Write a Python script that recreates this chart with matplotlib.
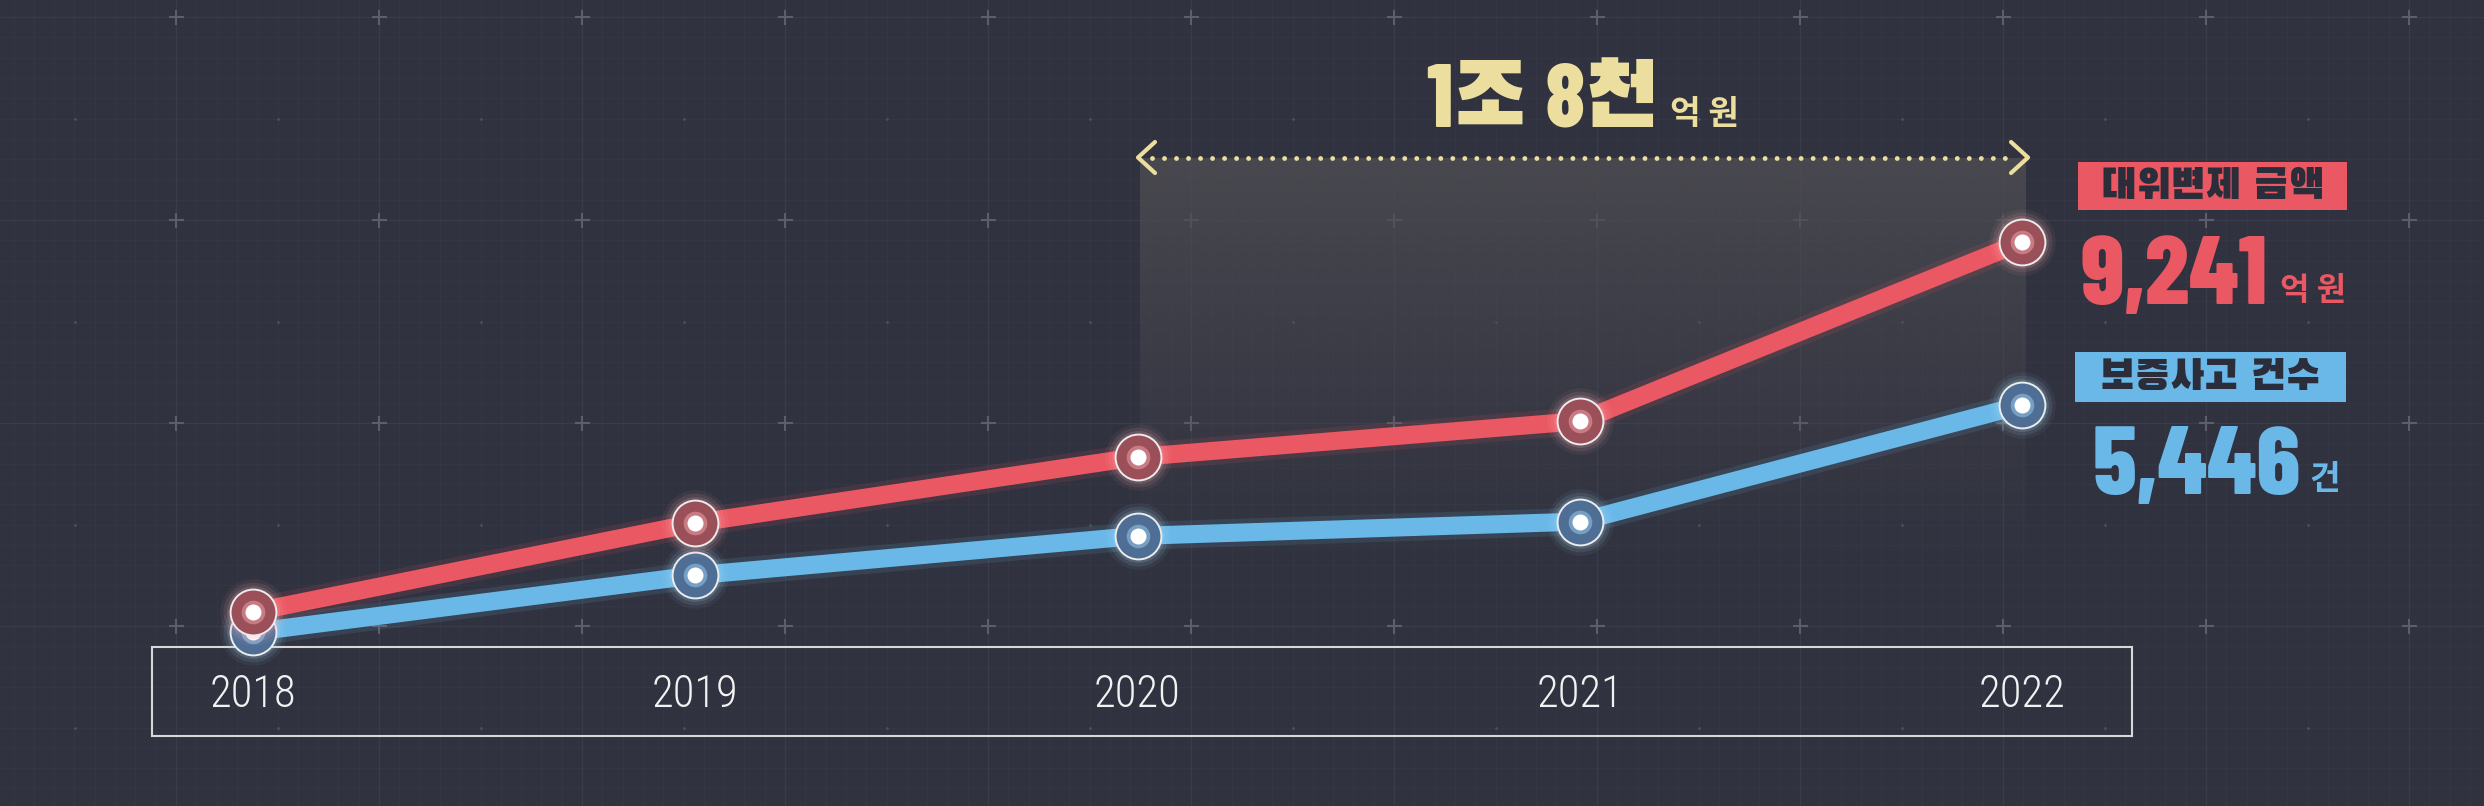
import numpy as np
import matplotlib
matplotlib.use('Agg')
import matplotlib.pyplot as plt
from matplotlib.patches import Rectangle
from matplotlib.collections import LineCollection
import matplotlib.transforms as mtransforms

# ---------------- data ----------------
years = [2018, 2019, 2020, 2021, 2022]
year_labels = ['2018', '2019', '2020', '2021', '2022']
subrogation_amount = [583, 2665, 4210, 5050, 9241]   # 대위변제 금액 (억 원)
accident_count = [372, 1640, 2520, 2840, 5446]       # 보증사고 건수 (건)

total_big = '1조 8천'
total_unit = '억 원'
red_title = '대위변제 금액'
red_value = '9,241'
red_unit = '억 원'
blue_title = '보증사고 건수'
blue_value = '5,446'
blue_unit = '건'

# ---------------- style ----------------
W, H = 2484, 806
BG = '#30323f'
RED = '#ea5863'
BLUE = '#6ab8e8'
RED_FILL = '#9b5059'
BLUE_FILL = '#4e6e96'
YEL = '#ebde9e'
DARK = '#2b2d3a'
CJK = 'Noto Sans CJK KR'
HEAVY = ['Black Han Sans', CJK]
NUMF = ['Barlow Condensed', 'Black Han Sans', CJK]
YEARF = ['Roboto Condensed', CJK]

fig = plt.figure(figsize=(W / 100, H / 100), dpi=100, facecolor=BG)
renderer = fig.canvas.get_renderer()

# background / decoration axes in pixel coordinates
bg = fig.add_axes([0, 0, 1, 1])
bg.axis('off')
bg.set_xlim(0, W)
bg.set_ylim(H, 0)

# fine grid
fine = 20.3
xs_f = np.arange(176 - fine * 9, W + fine, fine)
ys_f = np.arange(17 - fine, H + fine, fine)
bg.vlines(xs_f, 0, H, color='#353744', lw=0.7, zorder=0)
bg.hlines(ys_f, 0, W, color='#353744', lw=0.7, zorder=0)
# major grid
major = 203
xs_m = np.arange(176 - major, W + major, major)
ys_m = np.arange(17, H + major, major)
bg.vlines(xs_m, 0, H, color='#3a3c4a', lw=1.0, zorder=0)
bg.hlines(ys_m, 0, W, color='#3a3c4a', lw=1.0, zorder=0)
segs = []
for x in xs_m:
    for y in ys_m:
        segs.append([(x - 7.5, y), (x + 7.5, y)])
        segs.append([(x, y - 7.5), (x, y + 7.5)])
bg.add_collection(LineCollection(segs, colors='#5c5e6a', linewidths=1.5, zorder=0.5))
mx, my = np.meshgrid(xs_m + major / 2, ys_m - major / 2)
bg.scatter(mx.ravel(), my.ravel(), s=4, color='#4e505c', lw=0, zorder=0.5)

# shaded period 2020-2022
n = 200
grad = np.zeros((n, 1, 4))
grad[:, 0, :3] = matplotlib.colors.to_rgb('#4d4c52')
grad[:, 0, 3] = np.linspace(0.9, 0.0, n) ** 1.4
bg.imshow(grad, extent=[1140, 2026, 600, 158], aspect='auto', zorder=1,
          interpolation='bilinear')
bg.set_xlim(0, W)
bg.set_ylim(H, 0)

# dotted arrow
bg.plot([1152, 2014], [158, 158], color=YEL, lw=3.5,
        linestyle=(0, (0.001, 2.47)), dash_capstyle='round', zorder=3)
bg.plot([1155, 1138, 1155], [142, 157.5, 173], color=YEL, lw=3,
        solid_capstyle='round', solid_joinstyle='round', zorder=3)
bg.plot([2011, 2028, 2011], [142, 157.5, 173], color=YEL, lw=3,
        solid_capstyle='round', solid_joinstyle='round', zorder=3)


def width_of(t):
    return t.get_window_extent(renderer).width


# total label, centred over the shaded period
t_big = bg.text(0, 127, total_big, fontsize=64, family=NUMF, weight='heavy',
                color=YEL, ha='left', va='baseline', zorder=4)
t_unit = bg.text(0, 124, total_unit, fontsize=24, family=[CJK], weight='bold', color=YEL,
                 ha='left', va='baseline', zorder=4)
gap = 12
wb, wu = width_of(t_big), width_of(t_unit)
left = 1583 - (wb + gap + wu) / 2
t_big.set_x(left)
t_unit.set_x(left + wb + gap)

# right side labels
bg.add_patch(Rectangle((2078, 162), 269, 48, fc=RED, ec='none', zorder=3))
bg.text(2212.5, 187, red_title, fontsize=30, family=HEAVY,
        color=DARK, ha='center', va='center', zorder=4)
t = bg.text(2081, 304, red_value, fontsize=70, family=NUMF, weight='heavy',
            color=RED, ha='left', va='baseline', zorder=4)
bg.text(2081 + width_of(t) + 12, 300, red_unit, fontsize=23, family=[CJK], weight='bold',
        color=RED, ha='left', va='baseline', zorder=4)

bg.add_patch(Rectangle((2075, 352), 271, 50, fc=BLUE, ec='none', zorder=3))
bg.text(2210.5, 378, blue_title, fontsize=30, family=HEAVY,
        color=DARK, ha='center', va='center', zorder=4)
t = bg.text(2093, 494, blue_value, fontsize=70, family=NUMF, weight='heavy',
            color=BLUE, ha='left', va='baseline', zorder=4)
bg.text(2093 + width_of(t) + 8, 489, blue_unit, fontsize=24, family=[CJK], weight='bold',
        color=BLUE, ha='left', va='baseline', zorder=4)

# x-axis box
bg.add_patch(Rectangle((152, 647), 1980, 89, fill=False, ec='#d8d8d8', lw=1.5, zorder=3))

# ---------------- data axes ----------------
x_first_px, x_last_px = 253, 2022
ppy = (x_last_px - x_first_px) / (years[-1] - years[0])
xlim = (years[0] - x_first_px / ppy, years[0] + (W - x_first_px) / ppy)


def ylim_for(vals, y_first_px, y_last_px):
    s = (y_first_px - y_last_px) / (vals[-1] - vals[0])
    return vals[0] - (H - y_first_px) / s, vals[0] + y_first_px / s


def draw_series(ax, vals, color, fill, glow):
    ax.plot(years, vals, color=color, lw=20, alpha=0.12, solid_joinstyle='round', zorder=1)
    ax.plot(years, vals, color=color, lw=13, solid_joinstyle='round',
            solid_capstyle='butt', zorder=2)
    for ms, a in [(48, 0.06), (43, 0.10), (38, 0.16)]:
        ax.plot(years, vals, 'o', ms=ms, mfc=glow, mec='none', alpha=a, zorder=3)
    ax.plot(years, vals, 'o', ms=33, mfc=fill, mec='#ececec', mew=1.4, zorder=4)
    ax.plot(years, vals, 'o', ms=17, mfc=glow, mec='none', alpha=0.45, zorder=5)
    ax.plot(years, vals, 'o', ms=11.5, mfc='white', mec='none', zorder=6)


ax_b = fig.add_axes([0, 0, 1, 1])
ax_b.axis('off')
ax_b.set_xlim(*xlim)
ax_b.set_ylim(*ylim_for(accident_count, 632, 405))
draw_series(ax_b, accident_count, BLUE, BLUE_FILL, '#a9dcfa')

ax_r = fig.add_axes([0, 0, 1, 1])
ax_r.axis('off')
ax_r.set_xlim(*xlim)
ax_r.set_ylim(*ylim_for(subrogation_amount, 612, 242))
draw_series(ax_r, subrogation_amount, RED, RED_FILL, '#ffb0b6')

# year labels: x from data scale, y in pixel space
trans = mtransforms.blended_transform_factory(ax_r.transData, bg.transData)
for yr, lab in zip(years, year_labels):
    ax_r.text(yr, 707, lab, transform=trans, fontsize=32, family=YEARF, weight='light',
              color='#f2f2f2', ha='center', va='baseline', zorder=7)

fig.savefig('out.png', dpi=100, facecolor=BG)
